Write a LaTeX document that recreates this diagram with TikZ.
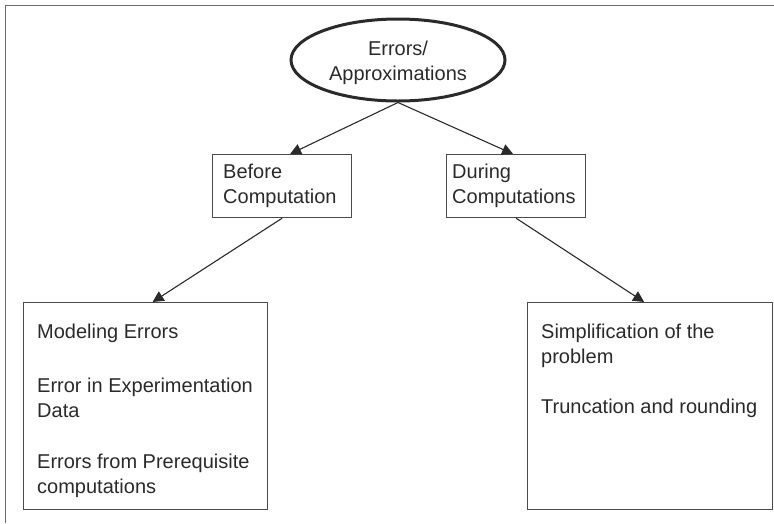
\documentclass[tikz,border=0pt]{standalone}
\usepackage{fontspec}
\setmainfont{Liberation Sans}
\usetikzlibrary{arrows.meta,shapes.geometric}
\definecolor{ink}{HTML}{2A2A2A}
\definecolor{framec}{HTML}{6A6A6A}
\tikzset{
  box/.style={draw=ink!85, line width=1.2pt, rectangle, inner sep=0pt, anchor=north west},
  txt/.style={anchor=base west, inner sep=0pt, text=ink, align=left, font=\fontsize{20}{24.5}\selectfont},
  ctxt/.style={anchor=base, inner sep=0pt, text=ink, align=center, font=\fontsize{20}{25}\selectfont},
  conn/.style={draw=ink, line width=1.1pt, -{Triangle[length=11pt,width=11pt]}},
}
\begin{document}
\begin{tikzpicture}[x=1pt,y=-1pt]
\useasboundingbox (0,0) rectangle (774,523);
% frame
\draw[framec, line width=1pt] (5,523) -- (5,5) -- (774,5);
% top ellipse
\node[draw=ink, line width=3pt, ellipse, minimum width=214pt, minimum height=82pt, inner sep=0pt] (top) at (398,60) {};
\node[ctxt] (toptxt) at (398,80) {Errors/\\Approximations};
% second level boxes
\node[box, minimum width=139pt, minimum height=63pt] (before) at (212,154) {};
\node[txt] (beforetxt) at (223,203) {Before\\Computation};
\node[box, minimum width=139pt, minimum height=63pt] (during) at (446,154) {};
\node[txt] (duringtxt) at (452,203) {During\\Computations};
% bottom boxes
\node[box, minimum width=244pt, minimum height=207pt] (left) at (23,302) {};
\node[txt] (l1) at (37,338) {Modeling Errors};
\node[txt] (l2) at (37,417) {Error in Experimentation\\Data};
\node[txt] (l3) at (37,493) {Errors from Prerequisite\\computations};
\node[box, minimum width=245pt, minimum height=207pt] (right) at (527,302) {};
\node[txt] (r1) at (541,363) {Simplification of the\\problem};
\node[txt] (r2) at (541,413) {Truncation and rounding};
% connectors
\draw[conn] (top.south) -- ([xshift=8pt]before.north);
\draw[conn] (top.south) -- ([xshift=-3pt]during.north);
\draw[conn] (before.south) -- ([xshift=7pt]left.north);
\draw[conn] (during.south) -- ([xshift=-6pt]right.north);
\end{tikzpicture}
\end{document}
